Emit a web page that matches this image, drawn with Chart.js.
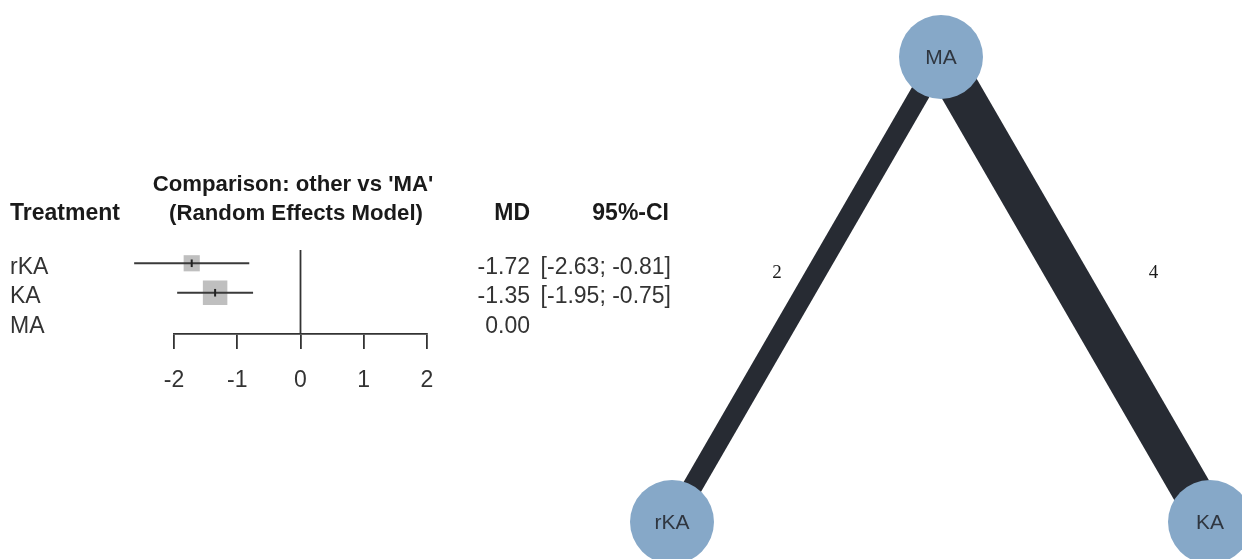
<!DOCTYPE html>
<html>
<head>
<meta charset="utf-8">
<script src="https://cdn.jsdelivr.net/npm/chart.js@4/dist/chart.umd.min.js"></script>
<style>
  html, body { margin: 0; padding: 0; background: #ffffff; }
  #wrap { position: relative; width: 1242px; height: 559px; overflow: hidden; }
  canvas { position: absolute; left: 0; top: 0; }
</style>
</head>
<body>
<div id="wrap">
  <canvas id="forest" width="1242" height="559"></canvas>
  <canvas id="network" width="1242" height="559"></canvas>
</div>
<script>
// Forest plot: network meta-analysis estimates, each treatment vs 'MA'
const treatments = ['rKA', 'KA', 'MA'];
const md = [-1.72, -1.35, 0.00];
const ciLower = [-2.63, -1.95, null];
const ciUpper = [-0.81, -0.75, null];
const xTicks = [-2, -1, 0, 1, 2];

// Network graph: nodes and direct comparisons (number of studies)
const nodes = ['MA', 'rKA', 'KA'];
const nodeX = [0, -1, 1];
const nodeY = [1, 0, 0];
const edgeFrom = ['MA', 'MA'];
const edgeTo = ['rKA', 'KA'];
const edgeStudies = [2, 4];

const SANS = '"Liberation Sans", Arial, sans-serif';
const SERIF = '"Liberation Serif", "Times New Roman", serif';

// ---------- forest plot ----------
const rowPos = treatments.map((t, i) => treatments.length - i);   // rKA=3, KA=2, MA=1
const Y_MIN = 0.6, Y_MAX = 3.45;

const ciSets = [];
const boxPts = [];
const markPts = [];
treatments.forEach((t, i) => {
  if (ciLower[i] !== null) {
    ciSets.push({
      data: [{ x: ciLower[i], y: rowPos[i] }, { x: ciUpper[i], y: rowPos[i] }],
      showLine: true, borderColor: '#3a3a3a', borderWidth: 2,
      pointRadius: 0, clip: false, order: 2
    });
    // square side inversely proportional to the standard error
    const se = (ciUpper[i] - ciLower[i]) / (2 * 1.96);
    const side = 7.5 / se;
    boxPts.push({ x: md[i], y: rowPos[i], r: side / (2 * Math.SQRT1_2) });
    markPts.push({ x: md[i], y: rowPos[i] });
  }
});

const forestText = {
  id: 'forestText',
  afterDraw(chart) {
    const { ctx, scales } = chart;
    const y = scales.y;
    ctx.save();
    ctx.textBaseline = 'alphabetic';
    ctx.fillStyle = '#1a1a1a';
    ctx.font = 'bold 23px ' + SANS;
    ctx.textAlign = 'left';
    ctx.fillText('Treatment', 10, 220);
    ctx.textAlign = 'right';
    ctx.fillText('MD', 530, 220);
    ctx.fillText('95%-CI', 669, 220);
    ctx.font = 'bold 22.2px ' + SANS;
    ctx.textAlign = 'center';
    ctx.fillText("Comparison: other vs 'MA'", 293, 191);
    ctx.fillText('(Random Effects Model)', 296, 220);

    ctx.font = '23px ' + SANS;
    ctx.fillStyle = '#333333';
    treatments.forEach((t, i) => {
      const base = y.getPixelForValue(rowPos[i]) + 10.5;
      ctx.textAlign = 'left';
      ctx.fillText(t, 10, base);
      ctx.textAlign = 'right';
      ctx.fillText(md[i].toFixed(2), 530, base);
      if (ciLower[i] !== null) {
        ctx.fillText('[' + ciLower[i].toFixed(2) + '; ' + ciUpper[i].toFixed(2) + ']', 671, base);
      }
    });
    ctx.restore();
  }
};

new Chart(document.getElementById('forest'), {
  type: 'scatter',
  data: {
    datasets: [
      {
        data: [{ x: 0, y: Y_MIN }, { x: 0, y: Y_MAX }],
        showLine: true, borderColor: '#333333', borderWidth: 1.8,
        pointRadius: 0, clip: false, order: 4
      },
      {
        data: boxPts,
        pointStyle: 'rect', backgroundColor: '#bfbfbf', borderWidth: 0,
        pointRadius: ctx => ctx.raw ? ctx.raw.r : 0,
        clip: false, order: 3
      },
      ...ciSets,
      {
        data: markPts,
        pointStyle: 'line', rotation: 90, pointRadius: 3.8,
        borderColor: '#222222', pointBorderColor: '#222222', pointBorderWidth: 2,
        clip: false, order: 1
      }
    ]
  },
  options: {
    responsive: false,
    animation: false,
    events: [],
    layout: { autoPadding: false, padding: { left: 174, right: 815, top: 250, bottom: 0 } },
    plugins: { legend: { display: false }, tooltip: { enabled: false } },
    scales: {
      x: {
        type: 'linear', min: -2, max: 2,
        afterFit: s => { s.height = 225; },
        afterBuildTicks: s => { s.ticks = xTicks.map(v => ({ value: v })); },
        ticks: {
          color: '#333333', padding: 18,
          font: { family: SANS, size: 23 },
          callback: v => String(v)
        },
        grid: { drawOnChartArea: false, drawTicks: true, tickLength: 15, color: '#333333', lineWidth: 1.8 },
        border: { display: true, color: '#333333', width: 1.8 }
      },
      y: { type: 'linear', min: Y_MIN, max: Y_MAX, display: false }
    }
  },
  plugins: [forestText]
});

// ---------- network graph ----------
const idx = name => nodes.indexOf(name);
const edgeSets = edgeFrom.map((f, k) => ({
  data: [
    { x: nodeX[idx(f)], y: nodeY[idx(f)] },
    { x: nodeX[idx(edgeTo[k])], y: nodeY[idx(edgeTo[k])] }
  ],
  showLine: true, borderColor: '#272b33', borderWidth: edgeStudies[k] * 10,
  borderCapStyle: 'butt', pointRadius: 0, clip: false, order: 2
}));

// edge labels sit beside each edge's midpoint
const edgeLabelShift = [-0.61, 0.79];
const edgeLabelY = 0.535;

const networkText = {
  id: 'networkText',
  afterDraw(chart) {
    const { ctx, scales } = chart;
    const sx = scales.x, sy = scales.y;
    ctx.save();
    ctx.textAlign = 'center';
    ctx.textBaseline = 'middle';
    ctx.font = '21px ' + SANS;
    ctx.fillStyle = '#2f3640';
    nodes.forEach((n, i) => {
      ctx.fillText(n, sx.getPixelForValue(nodeX[i]), sy.getPixelForValue(nodeY[i]) + 1);
    });
    ctx.font = '19px ' + SERIF;
    ctx.fillStyle = '#1a1a1a';
    edgeStudies.forEach((n, k) => {
      ctx.fillText(String(n), sx.getPixelForValue(edgeLabelShift[k]), sy.getPixelForValue(edgeLabelY));
    });
    ctx.restore();
  }
};

new Chart(document.getElementById('network'), {
  type: 'scatter',
  data: {
    datasets: [
      ...edgeSets,
      {
        data: nodes.map((n, i) => ({ x: nodeX[i], y: nodeY[i] })),
        pointStyle: 'circle', pointRadius: 42,
        backgroundColor: '#86a8c8', borderWidth: 0,
        clip: false, order: 1
      }
    ]
  },
  options: {
    responsive: false,
    animation: false,
    events: [],
    layout: { autoPadding: false, padding: { left: 672, right: 32, top: 57, bottom: 37 } },
    plugins: { legend: { display: false }, tooltip: { enabled: false } },
    scales: {
      x: { type: 'linear', min: -1, max: 1, display: false },
      y: { type: 'linear', min: 0, max: 1, display: false }
    }
  },
  plugins: [networkText]
});
</script>
</body>
</html>
